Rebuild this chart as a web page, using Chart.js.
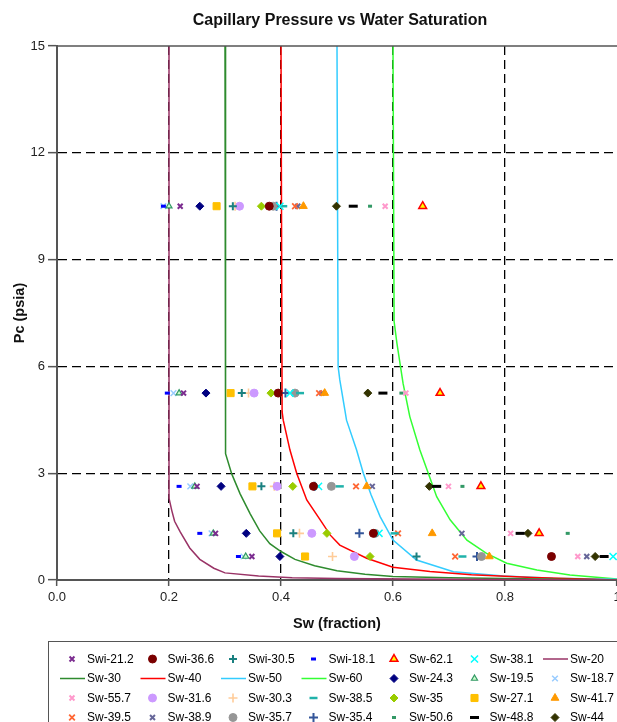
<!DOCTYPE html>
<html>
<head>
<meta charset="utf-8">
<script src="https://cdn.jsdelivr.net/npm/chart.js@4/dist/chart.umd.min.js"></script>
<style>
html,body{margin:0;padding:0;background:#fff;overflow:hidden;width:617px;height:722px;}
canvas{display:block;}
</style>
</head>
<body>
<canvas id="c" width="700" height="722"></canvas>
<script>
// ---- data ----
const chartTitle = 'Capillary Pressure vs Water Saturation';
const xTitle = 'Sw (fraction)';
const yTitle = 'Pc (psia)';
const xTickLabels = ['0.0', '0.2', '0.4', '0.6', '0.8', '1'];
const yTickValues = [0, 3, 6, 9, 12, 15];

// capillary pressure levels of the measured points (psia)
const pcLevels = [10.5, 5.25, 2.63, 1.31, 0.66];

// water saturation of each sample at the pc levels above
const swi212 = [0.220, 0.226, 0.250, 0.283, 0.348];
const swi366 = [0.379, 0.395, 0.458, 0.565, 0.883];
const swi305 = [0.314, 0.330, 0.365, 0.422, 0.642];
const swi181 = [0.190, 0.197, 0.218, 0.255, 0.324];
const sw621  = [0.653, 0.684, 0.757, 0.861, null];
const sw381  = [0.398, 0.416, 0.467, 0.575, 0.993];
const sw243  = [0.255, 0.266, 0.293, 0.338, 0.398];
const sw195  = [0.200, 0.218, 0.246, 0.279, 0.337];
const sw187  = [0.190, 0.208, 0.238, 0.276, 0.333];
const sw557  = [0.586, 0.623, 0.699, 0.810, 0.930];
const sw316  = [0.326, 0.352, 0.393, 0.455, 0.531];
const sw303  = [0.318, 0.342, 0.388, 0.433, 0.492];
const sw385  = [0.404, 0.434, 0.505, 0.603, 0.724];
const sw350  = [0.365, 0.382, 0.421, 0.482, 0.559];
const sw271  = [0.285, 0.310, 0.349, 0.393, 0.443];
const sw417  = [0.440, 0.478, 0.553, 0.670, 0.772];
const sw395  = [0.425, 0.468, 0.534, 0.609, 0.711];
const sw389  = [0.430, 0.473, 0.563, 0.723, 0.946];
const sw357  = [0.386, 0.425, 0.490, 0.568, 0.758];
const sw354  = [0.392, 0.408, 0.460, 0.540, 0.750];
const sw506  = [0.559, 0.615, 0.724, 0.912, null];
const sw488  = [0.529, 0.582, 0.678, 0.827, 0.977];
const sw440  = [0.499, 0.555, 0.665, 0.841, 0.961];

// model curves [Sw, Pc]
const curveSw20 = [[0.2,15],[0.2,2.3],[0.205,1.95],[0.21,1.65],[0.22,1.35],[0.237,0.9],[0.255,0.58],[0.28,0.33],[0.3,0.2],[0.36,0.11],[0.42,0.06],[0.5,0.04],[0.7,0.02],[1.0,0]];
const curveSw30 = [[0.3,15],[0.301,3.55],[0.312,2.98],[0.327,2.42],[0.345,1.86],[0.362,1.38],[0.38,1.02],[0.4,0.8],[0.425,0.58],[0.46,0.4],[0.5,0.26],[0.55,0.16],[0.6,0.1],[0.7,0.06],[0.8,0.04],[1.0,0]];
const curveSw40 = [[0.4,15],[0.402,4.72],[0.404,4.49],[0.416,3.65],[0.428,3.0],[0.446,2.25],[0.47,1.69],[0.488,1.26],[0.505,0.98],[0.553,0.61],[0.6,0.36],[0.666,0.24],[0.74,0.15],[0.85,0.07],[1.0,0]];
const curveSw50 = [[0.5,15],[0.502,6.0],[0.505,5.62],[0.514,4.78],[0.517,4.49],[0.535,3.65],[0.547,3.0],[0.561,2.39],[0.577,1.78],[0.6,1.12],[0.642,0.56],[0.708,0.23],[0.797,0.11],[0.886,0.05],[1.0,0.02]];
const curveSw60 = [[0.6,15],[0.602,7.26],[0.607,6.65],[0.618,5.52],[0.63,4.59],[0.648,3.65],[0.663,3.0],[0.678,2.34],[0.702,1.69],[0.732,1.12],[0.767,0.75],[0.803,0.47],[0.857,0.28],[0.916,0.14],[1.0,0.03]];

// legend / series order
const seriesOrder = [
  ['Swi-21.2', swi212], ['Swi-36.6', swi366], ['Swi-30.5', swi305], ['Swi-18.1', swi181],
  ['Sw-62.1', sw621], ['Sw-38.1', sw381], ['Sw-20', curveSw20],
  ['Sw-30', curveSw30], ['Sw-40', curveSw40], ['Sw-50', curveSw50], ['Sw-60', curveSw60],
  ['Sw-24.3', sw243], ['Sw-19.5', sw195], ['Sw-18.7', sw187],
  ['Sw-55.7', sw557], ['Sw-31.6', sw316], ['Sw-30.3', sw303], ['Sw-38.5', sw385],
  ['Sw-35', sw350], ['Sw-27.1', sw271], ['Sw-41.7', sw417],
  ['Sw-39.5', sw395], ['Sw-38.9', sw389], ['Sw-35.7', sw357], ['Sw-35.4', sw354],
  ['Sw-50.6', sw506], ['Sw-48.8', sw488], ['Sw-44', sw440]
];

// ---- styles ----
const markerStyles = {
  'Swi-21.2': {ps:'crossRot', c:'#7B2C8F', r:3.5, bw:2},
  'Swi-36.6': {ps:'circle', c:'#7A0000', f:'#7A0000', r:4, bw:1},
  'Swi-30.5': {ps:'cross', c:'#1A8080', r:4, bw:2},
  'Swi-18.1': {ps:'line', c:'#0000FF', r:2.5, bw:3},
  'Sw-62.1':  {ps:'triangle', c:'#FF0000', f:'#FFFF00', r:4.5, bw:1.5},
  'Sw-38.1':  {ps:'crossRot', c:'#00FFFF', r:5, bw:1.5},
  'Sw-24.3':  {ps:'rectRot', c:'#000080', f:'#000080', r:4, bw:1},
  'Sw-19.5':  {ps:'triangle', c:'#339966', f:'#CCFFCC', r:3.5, bw:1.2},
  'Sw-18.7':  {ps:'crossRot', c:'#99CCFF', r:4, bw:1.5},
  'Sw-55.7':  {ps:'crossRot', c:'#FF99CC', r:3.5, bw:2},
  'Sw-31.6':  {ps:'circle', c:'#CC99FF', f:'#CC99FF', r:4, bw:1},
  'Sw-30.3':  {ps:'cross', c:'#FFCC99', r:4.5, bw:1.6},
  'Sw-38.5':  {ps:'line', c:'#20B2AA', r:4, bw:2.5},
  'Sw-35':    {ps:'rectRot', c:'#99CC00', f:'#99CC00', r:4, bw:1},
  'Sw-27.1':  {ps:'rect', c:'#FFC000', f:'#FFC000', r:5, bw:1},
  'Sw-41.7':  {ps:'triangle', c:'#FF9900', f:'#FF9900', r:4.5, bw:1},
  'Sw-39.5':  {ps:'crossRot', c:'#FF6633', r:4, bw:1.8},
  'Sw-38.9':  {ps:'crossRot', c:'#666699', r:3.5, bw:2},
  'Sw-35.7':  {ps:'circle', c:'#969696', f:'#969696', r:4, bw:1},
  'Sw-35.4':  {ps:'cross', c:'#335599', r:4.5, bw:2},
  'Sw-50.6':  {ps:'line', c:'#339966', r:2, bw:3},
  'Sw-48.8':  {ps:'line', c:'#000000', r:4.5, bw:3},
  'Sw-44':    {ps:'rectRot', c:'#333300', f:'#333300', r:4, bw:1}
};
const lineColors = {
  'Sw-20': '#993366', 'Sw-30': '#2E8B2E', 'Sw-40': '#FF0000', 'Sw-50': '#33CCFF', 'Sw-60': '#33FF33'
};

const FONT = "'Liberation Sans', Arial, sans-serif";

const datasets = seriesOrder.map(([name, arr]) => {
  if (lineColors[name]) {
    return {
      label: name,
      data: arr.map(p => ({x: p[0], y: p[1]})),
      showLine: true,
      borderColor: lineColors[name],
      backgroundColor: lineColors[name],
      borderWidth: 1.5,
      pointRadius: 0,
      tension: 0,
      order: 2
    };
  }
  const s = markerStyles[name];
  return {
    label: name,
    data: pcLevels.map((pc, i) => ({x: arr[i], y: pc})).filter(p => p.x !== null),
    showLine: false,
    pointStyle: s.ps,
    pointRadius: s.r,
    pointHoverRadius: s.r,
    pointBorderWidth: s.bw,
    borderColor: s.c,
    backgroundColor: s.f || s.c,
    order: 1
  };
});

function drawMarker(ctx, opts, x, y) {
  if (Chart.helpers && Chart.helpers.drawPoint) {
    Chart.helpers.drawPoint(ctx, opts, x, y);
    return;
  }
  ctx.beginPath(); ctx.arc(x, y, opts.radius, 0, Math.PI * 2); ctx.fill(); ctx.stroke();
}

const decor = {
  id: 'decor',
  afterDraw(chart) {
    const ctx = chart.ctx;
    const a = chart.chartArea;
    ctx.save();
    // plot top border
    ctx.strokeStyle = '#555'; ctx.lineWidth = 1.5;
    ctx.beginPath(); ctx.moveTo(a.left, a.top); ctx.lineTo(a.right + 5, a.top); ctx.stroke();
    // title
    ctx.fillStyle = '#111';
    ctx.font = 'bold 16px ' + FONT;
    ctx.textAlign = 'center'; ctx.textBaseline = 'middle';
    ctx.fillText(chartTitle, 340, 21);
    // legend box
    ctx.strokeStyle = '#555'; ctx.lineWidth = 1;
    ctx.strokeRect(48.5, 641.5, 640, 120);
    ctx.font = '12px ' + FONT;
    ctx.textAlign = 'left';
    chart.data.datasets.forEach((ds, i) => {
      const col = i % 7, row = Math.floor(i / 7);
      const cx = 72 + col * 80.5, cy = 659 + row * 19.5;
      ctx.save();
      if (ds.showLine) {
        ctx.strokeStyle = ds.borderColor; ctx.lineWidth = ds.borderWidth;
        ctx.beginPath(); ctx.moveTo(cx - 12, cy); ctx.lineTo(cx + 13, cy); ctx.stroke();
      } else {
        ctx.fillStyle = ds.backgroundColor; ctx.strokeStyle = ds.borderColor;
        ctx.lineWidth = ds.pointBorderWidth;
        drawMarker(ctx, {pointStyle: ds.pointStyle, radius: ds.pointRadius, rotation: 0, borderWidth: ds.pointBorderWidth}, cx, cy);
      }
      ctx.restore();
      ctx.fillStyle = '#000';
      ctx.fillText(ds.label, cx + 15, cy + 0.5);
    });
    ctx.restore();
  }
};

new Chart(document.getElementById('c'), {
  type: 'scatter',
  data: { datasets },
  plugins: [decor],
  options: {
    responsive: false,
    animation: false,
    events: [],
    layout: { padding: { top: 46, right: 83, bottom: 82, left: 0 } },
    plugins: { legend: { display: false }, title: { display: false }, tooltip: { enabled: false } },
    scales: {
      x: {
        type: 'linear', min: 0, max: 1,
        ticks: {
          stepSize: 0.2, padding: 4, color: '#222', maxRotation: 0,
          font: { family: FONT, size: 13 },
          callback: (v, i) => xTickLabels[i]
        },
        grid: {
          color: c => (c.tick && (c.tick.value === 0 || c.tick.value >= 0.999)) ? 'rgba(0,0,0,0)' : '#000',
          lineWidth: 1.3, tickLength: 6, tickColor: '#555', tickWidth: 1.5, tickBorderDash: []
        },
        border: { color: '#555', width: 2, dash: [9, 5] },
        title: { display: true, text: xTitle, color: '#111', font: { family: FONT, size: 14.5, weight: 'bold' }, padding: { top: 4, bottom: 7 } },
        afterFit(s) { s.height = 60; }
      },
      y: {
        type: 'linear', min: 0, max: 15,
        afterBuildTicks(s) { s.ticks = yTickValues.map(v => ({ value: v })); },
        ticks: { padding: 3, color: '#222', font: { family: FONT, size: 13 } },
        grid: {
          color: c => (c.tick && (c.tick.value === 0 || c.tick.value === 15)) ? 'rgba(0,0,0,0)' : '#000',
          lineWidth: 1.3, tickLength: 9, tickColor: '#555', tickWidth: 1.5, tickBorderDash: []
        },
        border: { color: '#555', width: 2, dash: [9, 5] },
        title: { display: true, text: yTitle, color: '#111', font: { family: FONT, size: 14.5, weight: 'bold' }, padding: { top: 11, bottom: 0 } },
        afterFit(s) { s.width = 57; }
      }
    }
  }
});
</script>
</body>
</html>
